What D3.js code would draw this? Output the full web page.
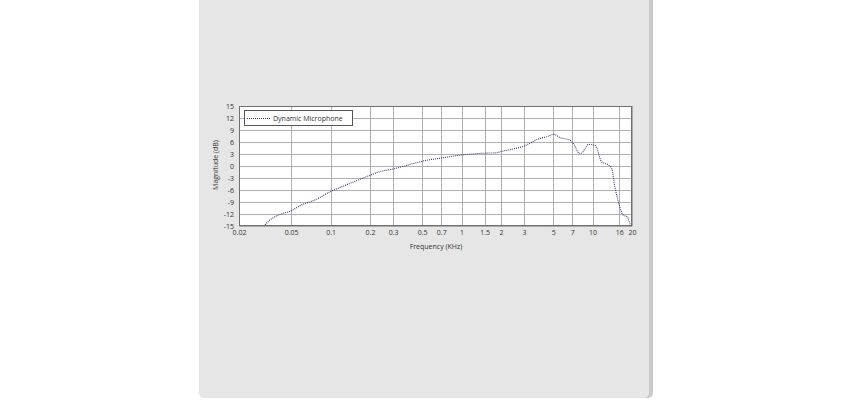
<!DOCTYPE html>
<html><head><meta charset="utf-8">
<script src="https://cdn.jsdelivr.net/npm/d3@7"></script>
<style>
html,body{margin:0;padding:0;background:#fff;}
svg{display:block;}
text{font-family:"Open Sans","DejaVu Sans",sans-serif;fill:#333;}
</style></head>
<body>
<script>
const freqKHz = [0.0316, 0.0345, 0.04, 0.05, 0.06, 0.076, 0.1, 0.137, 0.194, 0.238, 0.3, 0.416, 0.5, 0.7, 1, 1.5, 1.85, 2, 3, 3.97, 4.44, 5.08, 5.64, 6.7, 7.2, 7.9, 8.2, 9.3, 10.5, 11.7, 13.2, 14, 14.8, 16, 17.1, 18.4, 19.4, 19.8];
const magnitudeDb = [-14.75, -13.5, -12.25, -11.2, -9.75, -8.5, -6.4, -4.5, -2.5, -1.4, -0.75, 0.5, 1.2, 2, 2.75, 3.2, 3.3, 3.6, 5, 6.9, 7.3, 7.9, 7.1, 6.5, 5.4, 3.2, 3.2, 5.4, 5.1, 1.1, 0.25, -0.6, -5.2, -9.75, -12.25, -12.7, -14.6, -15];
const xTicks = [0.02, 0.05, 0.1, 0.2, 0.3, 0.5, 0.7, 1, 1.5, 2, 3, 5, 7, 10, 16, 20];
const yTicks = [-15, -12, -9, -6, -3, 0, 3, 6, 9, 12, 15];
const seriesName = "Dynamic Microphone";

const W = 850, H = 400;
const svg = d3.select("body").append("svg").attr("width", W).attr("height", H);

// panel
svg.append("rect").attr("x", 201).attr("y", -10).attr("width", 452).attr("height", 408).attr("rx", 5).attr("fill", "#c9c9c9");
svg.append("rect").attr("x", 199).attr("y", -10).attr("width", 450).attr("height", 408).attr("rx", 5).attr("fill", "#e6e6e6");

const L = 239, R = 632, T = 106, B = 226;
const x = d3.scaleLog().domain([0.02, 20]).range([L, R]);
const y = d3.scaleLinear().domain([-15, 15]).range([B, T]);

svg.append("rect").attr("x", L).attr("y", T).attr("width", R - L).attr("height", B - T).attr("fill", "#fff");

// grid
svg.append("g").selectAll("line").data(xTicks).join("line")
  .attr("x1", d => Math.round(x(d)) + 0.5).attr("x2", d => Math.round(x(d)) + 0.5)
  .attr("y1", T).attr("y2", B).attr("stroke", "#9a9a9a").attr("stroke-width", 0.8);
svg.append("g").selectAll("line").data(yTicks).join("line")
  .attr("y1", d => Math.round(y(d)) + 0.5).attr("y2", d => Math.round(y(d)) + 0.5)
  .attr("x1", L).attr("x2", R).attr("stroke", "#9a9a9a").attr("stroke-width", 0.8);

// axes labels
const xAxis = d3.axisBottom(x).tickValues(xTicks).tickSize(0).tickPadding(4).tickFormat(d => String(d));
const gx = svg.append("g").attr("transform", `translate(0,${B})`).call(xAxis);
gx.select(".domain").remove();
gx.selectAll("text").style("font-size", "7px").attr("fill", "#333");

const yAxis = d3.axisLeft(y).tickValues(yTicks).tickSize(0).tickPadding(5).tickFormat(d => String(d));
const gy = svg.append("g").attr("transform", `translate(${L},0)`).call(yAxis);
gy.select(".domain").remove();
gy.selectAll("text").style("font-size", "7px").attr("fill", "#333");

svg.append("rect").attr("x", L + 0.5).attr("y", T + 0.5).attr("width", R - L - 1).attr("height", B - T - 1)
  .attr("fill", "none").attr("stroke", "#707070").attr("stroke-width", 1);

// line
svg.append("defs").append("clipPath").attr("id", "clip").append("rect")
  .attr("x", L).attr("y", T).attr("width", R - L).attr("height", B - T);
const line = d3.line().x((d, i) => x(freqKHz[i])).y(d => y(d)).curve(d3.curveMonotoneX);
svg.append("path").datum(magnitudeDb).attr("d", line).attr("clip-path", "url(#clip)")
  .attr("fill", "none").attr("stroke", "#3d3d80").attr("stroke-width", 1.1).attr("stroke-dasharray", "1,1");

// legend
const lg = svg.append("g");
lg.append("rect").attr("x", 244.5).attr("y", 110.5).attr("width", 108).attr("height", 15)
  .attr("fill", "#fff").attr("stroke", "#555").attr("stroke-width", 1);
lg.append("line").attr("x1", 247).attr("x2", 271).attr("y1", 118.5).attr("y2", 118.5)
  .attr("stroke", "#3d3d80").attr("stroke-width", 1.1).attr("stroke-dasharray", "1,1");
lg.append("text").attr("x", 273).attr("y", 118.5).attr("dy", "0.35em").style("font-size", "7px").text(seriesName);

// titles
svg.append("text").attr("x", 436).attr("y", 247).attr("text-anchor", "middle").attr("dy", "0.35em")
  .style("font-size", "7px").text("Frequency (KHz)");
svg.append("text").attr("transform", "translate(216,165) rotate(-90)").attr("text-anchor", "middle").attr("dy", "0.35em")
  .style("font-size", "7px").text("Magnitude (dB)");
</script>
</body></html>
